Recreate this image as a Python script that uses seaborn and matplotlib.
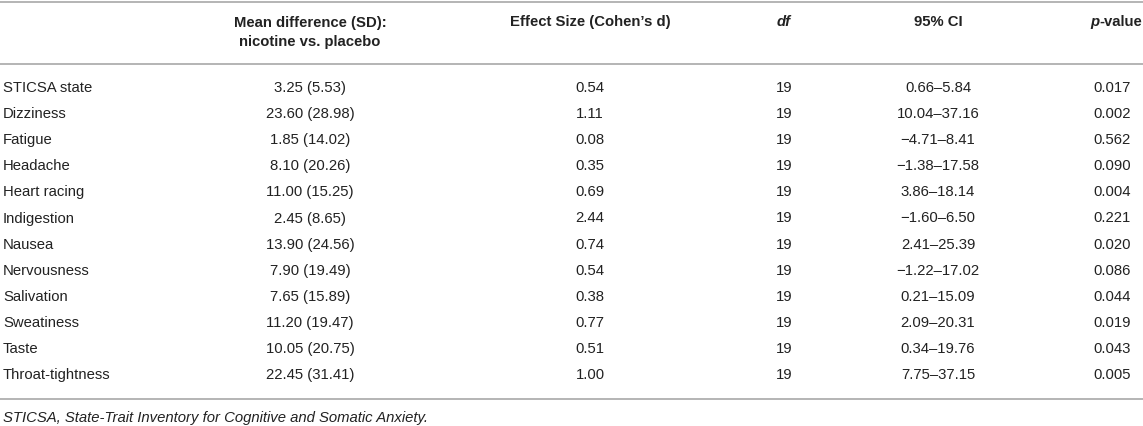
import numpy as np
import matplotlib
matplotlib.use("Agg")
import matplotlib.pyplot as plt
import seaborn as sns

sns.set_theme(style="white")
plt.rcParams['font.family'] = ['Liberation Sans', 'DejaVu Sans']

# table data
symptoms = ["STICSA state", "Dizziness", "Fatigue", "Headache", "Heart racing",
            "Indigestion", "Nausea", "Nervousness", "Salivation", "Sweatiness",
            "Taste", "Throat-tightness"]
mean_diff = [3.25, 23.60, 1.85, 8.10, 11.00, 2.45, 13.90, 7.90, 7.65, 11.20, 10.05, 22.45]
sd_diff = [5.53, 28.98, 14.02, 20.26, 15.25, 8.65, 24.56, 19.49, 15.89, 19.47, 20.75, 31.41]
cohens_d = [0.54, 1.11, 0.08, 0.35, 0.69, 2.44, 0.74, 0.54, 0.38, 0.77, 0.51, 1.00]
dof = [19] * 12
ci_low = [0.66, 10.04, -4.71, -1.38, 3.86, -1.60, 2.41, -1.22, 0.21, 2.09, 0.34, 7.75]
ci_high = [5.84, 37.16, 8.41, 17.58, 18.14, 6.50, 25.39, 17.02, 15.09, 20.31, 19.76, 37.15]
p_values = [0.017, 0.002, 0.562, 0.090, 0.004, 0.221, 0.020, 0.086, 0.044, 0.019, 0.043, 0.005]
footnote = "STICSA, State-Trait Inventory for Cognitive and Somatic Anxiety."


def fmt_num(v):
    s = "{:.2f}".format(abs(v))
    return ("\u2212" + s) if v < 0 else s


W, H = 1143, 427
fig = plt.figure(figsize=(W / 100, H / 100), dpi=100)
ax = fig.add_axes([0, 0, 1, 1])

# x in pixels, y in row units (row 0 at px 88, row step 26.1 px)
row0, step = 88.0, 26.1
px2row = lambda p: (p - row0) / step
ax.set_xlim(0, W)
ax.set_ylim(px2row(H), px2row(0))
ax.axis("off")

txt = "#222222"
rule = "#b4b4b4"
fs = 10.7

# horizontal rules
for p in [3, 65, 400]:
    ax.axhline(px2row(p), color=rule, lw=1.4)

# column positions
x_lab, x_mean, x_d, x_df, x_ci, x_p = 3, 310, 590, 784, 938, 1112

# header
ax.text(x_mean, px2row(32.5), "Mean difference (SD):\nnicotine vs. placebo",
        ha="center", va="center", fontsize=fs, fontweight="bold", color=txt,
        linespacing=1.45)
ax.text(x_d, px2row(22), "Effect Size (Cohen\u2019s d)", ha="center", va="center",
        fontsize=fs, fontweight="bold", color=txt)
ax.text(x_df, px2row(22), "df", ha="center", va="center", fontsize=fs,
        fontweight="bold", style="italic", color=txt)
ax.text(x_ci, px2row(22), "95% CI", ha="center", va="center", fontsize=fs,
        fontweight="bold", color=txt)
pv = ax.text(1142, px2row(22), "-value", ha="right", va="center", fontsize=fs,
             fontweight="bold", color=txt)
ax.annotate("p", xy=(0, 0.5), xycoords=pv, ha="right", va="center", fontsize=fs,
            fontweight="bold", style="italic", color=txt)

# body rows
rows = np.arange(len(symptoms))
for i in rows:
    ax.text(x_lab, i, symptoms[i], ha="left", va="center", fontsize=fs, color=txt)
    ax.text(x_mean, i, "{:.2f} ({:.2f})".format(mean_diff[i], sd_diff[i]),
            ha="center", va="center", fontsize=fs, color=txt)
    ax.text(x_d, i, "{:.2f}".format(cohens_d[i]), ha="center", va="center",
            fontsize=fs, color=txt)
    ax.text(x_df, i, str(dof[i]), ha="center", va="center", fontsize=fs, color=txt)
    ax.text(x_ci, i, fmt_num(ci_low[i]) + "\u2013" + fmt_num(ci_high[i]),
            ha="center", va="center", fontsize=fs, color=txt)
    ax.text(x_p, i, "{:.3f}".format(p_values[i]), ha="center", va="center",
            fontsize=fs, color=txt)

# footnote
ax.text(x_lab, px2row(418), footnote, ha="left", va="center", fontsize=fs,
        style="italic", color=txt)

fig.savefig("out.png", dpi=100)
